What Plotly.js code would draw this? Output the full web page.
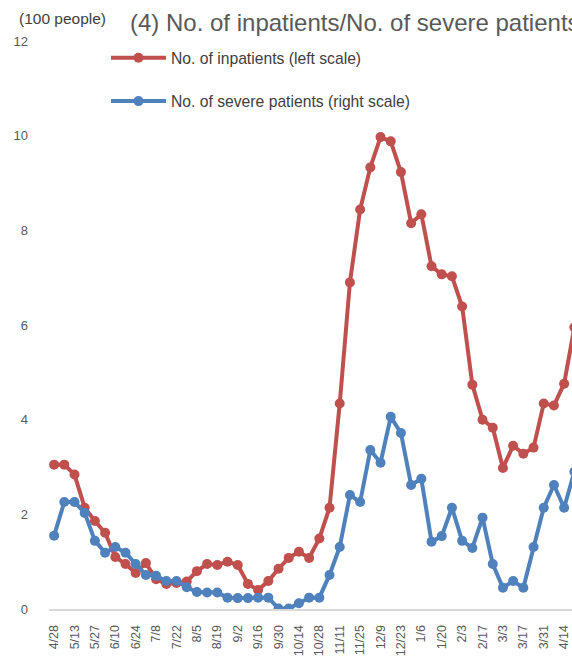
<!DOCTYPE html>
<html>
<head>
<meta charset="utf-8">
<script src="https://cdn.plot.ly/plotly-3.0.1.min.js"></script>
<style>
html, body { margin: 0; padding: 0; overflow: hidden; background: #fff; }
#chart { width: 572px; height: 663px; }
</style>
</head>
<body>
<div id="chart"></div>
<script>
// Weekly dates (x categories)
const dates = ["4/28","5/6","5/13","5/20","5/27","6/3","6/10","6/17","6/24","7/1","7/8","7/15","7/22","7/29",
  "8/5","8/12","8/19","8/26","9/2","9/9","9/16","9/23","9/30","10/7","10/14","10/21","10/28","11/4",
  "11/11","11/18","11/25","12/2","12/9","12/16","12/23","12/30","1/6","1/13","1/20","1/27","2/3","2/10",
  "2/17","2/24","3/3","3/10","3/17","3/24","3/31","4/7","4/14","4/21"];

// Tick labels shown on the x axis (every other week)
const tickLabels = ["4/28","5/13","5/27","6/10","6/24","7/8","7/22","8/5","8/19","9/2","9/16","9/30",
  "10/14","10/28","11/11","11/25","12/9","12/23","1/6","1/20","2/3","2/17","3/3","3/17","3/31","4/14"];

// No. of inpatients (left scale, 100 people)
const inpatients = [3.05,3.05,2.84,2.14,1.86,1.61,1.10,0.95,0.76,0.97,0.63,0.53,0.55,0.58,
  0.80,0.95,0.93,1.00,0.93,0.53,0.40,0.59,0.85,1.08,1.21,1.08,1.49,2.14,
  4.34,6.90,8.44,9.33,9.97,9.88,9.23,8.15,8.34,7.24,7.07,7.03,6.39,4.74,
  4.00,3.83,2.98,3.45,3.28,3.41,4.34,4.30,4.76,5.95];

// No. of severe patients (right scale)
const severe = [15.5,22.6,22.6,20.3,14.4,11.9,13.1,11.9,9.5,7.2,7.0,5.9,5.9,4.6,
  3.6,3.5,3.5,2.4,2.3,2.3,2.4,2.4,0.1,0.1,1.2,2.4,2.4,7.2,
  13.1,24.1,22.6,33.6,30.9,40.6,37.2,26.2,27.5,14.2,15.4,21.4,14.4,12.9,
  19.3,9.5,4.5,5.9,4.5,13.1,21.4,26.2,21.4,29.0];

const leftTicks = [0,2,4,6,8,10,12];

const FONT = "Liberation Sans, Arial, sans-serif";

const traces = [
  {
    x: dates, y: inpatients, type: "scatter", mode: "lines+markers",
    name: "No. of inpatients (left scale)",
    legendgroup: "a",
    line: { color: "#C0504D", width: 4 },
    marker: { color: "#C0504D", size: 10 },
    yaxis: "y", cliponaxis: true
  },
  {
    x: dates, y: severe, type: "scatter", mode: "lines+markers",
    name: "No. of severe patients (right scale)",
    legendgroup: "b",
    line: { color: "#4F81BD", width: 4 },
    marker: { color: "#4F81BD", size: 10 },
    yaxis: "y2", cliponaxis: true
  }
];

const layout = {
  width: 572, height: 663,
  margin: { l: 49, r: 0, t: 41, b: 54, autoexpand: false },
  paper_bgcolor: "#ffffff", plot_bgcolor: "#ffffff",
  font: { family: FONT, color: "#595959" },
  title: {
    text: "(4) No. of inpatients/No. of severe patients",
    font: { family: FONT, size: 24, color: "#595959" },
    xref: "container", yref: "container",
    x: 130/572, xanchor: "left",
    y: 1 - 23/663, yanchor: "middle",
    automargin: false
  },
  showlegend: true,
  legend: {
    xref: "paper", yref: "paper",
    x: (106 - 49) / 523, xanchor: "left",
    y: (609 - 41) / 568, yanchor: "top",
    bgcolor: "rgba(0,0,0,0)",
    font: { family: FONT, size: 15.7, color: "#404040" },
    itemwidth: 55,
    traceorder: "grouped",
    tracegroupgap: 20
  },
  xaxis: {
    type: "category",
    range: [-0.5, 50.77],
    tickmode: "array",
    tickvals: tickLabels,
    ticktext: tickLabels,
    tickangle: -90,
    tickfont: { family: FONT, size: 12.5, color: "#595959" },
    ticks: "",
    ticklabelstandoff: 9,
    showgrid: false,
    zeroline: false,
    showline: true,
    linecolor: "#D9D9D9",
    linewidth: 2,
    automargin: false,
    fixedrange: true
  },
  yaxis: {
    range: [0, 12],
    tickmode: "array",
    tickvals: leftTicks,
    ticktext: leftTicks.map(String),
    tickfont: { family: FONT, size: 13, color: "#595959" },
    ticks: "",
    ticklabelstandoff: 20,
    showgrid: false,
    zeroline: false,
    showline: false,
    automargin: false,
    fixedrange: true
  },
  yaxis2: {
    overlaying: "y",
    side: "right",
    range: [0, 120],
    showticklabels: false,
    ticks: "",
    showgrid: false,
    zeroline: false,
    showline: false,
    automargin: false,
    fixedrange: true
  },
  annotations: [
    {
      text: "(100 people)",
      xref: "paper", yref: "paper",
      x: (17 - 49) / 523, xanchor: "left",
      y: (609 - 19) / 568, yanchor: "middle",
      showarrow: false,
      font: { family: FONT, size: 15.5, color: "#404040" }
    }
  ]
};

Plotly.newPlot("chart", traces, layout, { displayModeBar: false, staticPlot: true });
</script>
</body>
</html>
